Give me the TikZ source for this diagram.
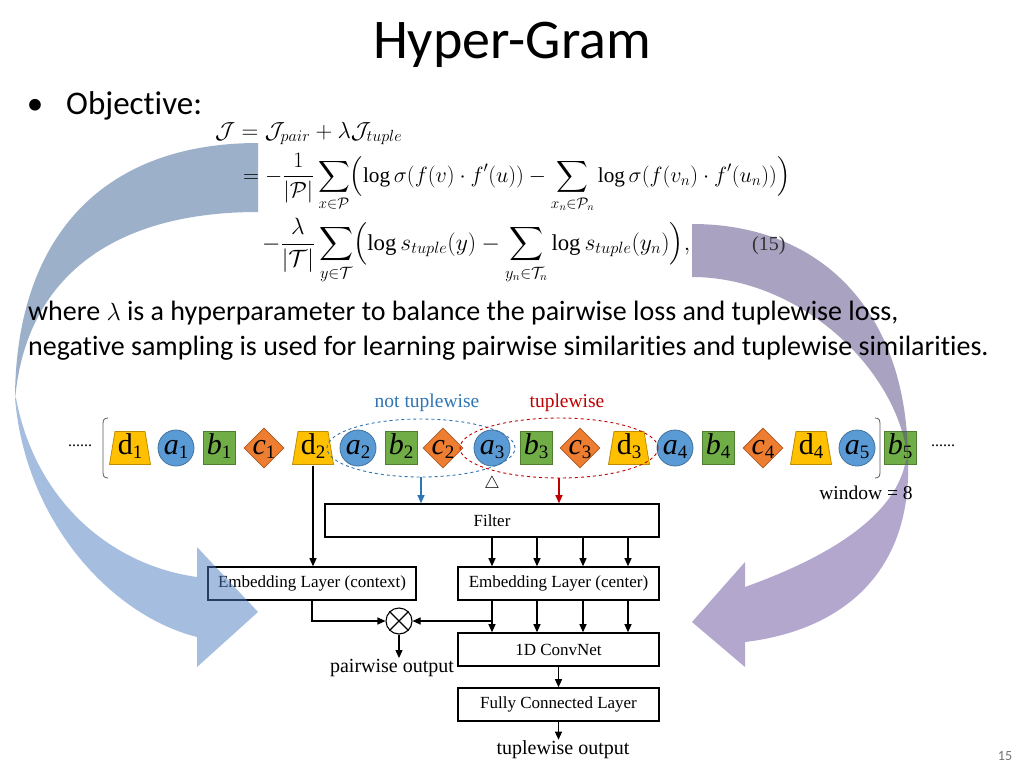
\documentclass[tikz,border=0pt]{standalone}
\usepackage{amsmath}
\usepackage{fontspec}
\setmainfont{Liberation Serif}
\newfontfamily\calibri[Ligatures=NoCommon]{Carlito}
\usetikzlibrary{shapes.geometric,arrows.meta,calc}

\definecolor{yel}{RGB}{255,192,0}
\definecolor{yeld}{RGB}{190,140,0}
\definecolor{blu}{RGB}{91,155,213}
\definecolor{blud}{RGB}{65,113,156}
\definecolor{grn}{RGB}{112,173,71}
\definecolor{grnd}{RGB}{80,126,50}
\definecolor{org}{RGB}{237,125,49}
\definecolor{orgd}{RGB}{174,90,33}
\definecolor{lineblue}{RGB}{46,117,182}
\definecolor{linered}{RGB}{192,0,0}
\definecolor{bandbA}{RGB}{59,99,151}
\definecolor{bandbB}{RGB}{77,127,193}
\definecolor{bandpA}{RGB}{85,71,131}
\definecolor{bandpB}{RGB}{105,81,159}

\newcommand\seqlab[2]{\makebox[0pt]{\smash{\raisebox{-6.5pt}{\fontsize{30}{30}\selectfont #1\raisebox{-4pt}{\fontsize{19}{19}\selectfont #2}}}}}

\tikzset{
  trap/.style={rectangle, minimum width=43pt, minimum height=35pt, inner sep=0pt,
    path picture={\filldraw[fill=yel, draw=yeld, line width=0.8pt]
      ([shift={(1pt,1pt)}]path picture bounding box.south west) --
      ([shift={(-1pt,1pt)}]path picture bounding box.south east) --
      ([shift={(-6.5pt,-1pt)}]path picture bounding box.north east) --
      ([shift={(6.5pt,-1pt)}]path picture bounding box.north west) -- cycle;}},
  circ/.style={circle, minimum size=36pt, inner sep=0pt, fill=blu, draw=blud, line width=0.8pt},
  sqr/.style={rectangle, minimum width=32pt, minimum height=33pt, inner sep=0pt, fill=grn, draw=grnd, line width=0.8pt},
  dia/.style={diamond, minimum width=40pt, minimum height=40pt, inner sep=0pt, fill=org, draw=orgd, line width=0.8pt},
  box/.style={rectangle, draw=black, line width=1.6pt, minimum height=33pt, inner sep=0pt, font=\fontsize{17}{17}\selectfont},
  arr/.style={-{Triangle[length=8pt,width=7pt]}, line width=1.1pt},
  slide/.style={font=\calibri\fontsize{28}{28}\selectfont, anchor=base west, inner sep=0pt},
}

\begin{document}
\begin{tikzpicture}[x=1pt,y=-1pt]
\fill[white] (0,0) rectangle (1024,768);
\useasboundingbox (0,0) rectangle (1024,768);

% ---------- sequence row ----------
\node[font=\fontsize{16}{16}\selectfont] (ldots) at (80,446) {......};
\node[font=\fontsize{16}{16}\selectfont] (rdots) at (943,446) {......};
\draw[black!65, line width=0.8pt] (108,418) .. controls (104,418) and (103,420) .. (103,424) -- (103,472) .. controls (103,476) and (104,478) .. (108,478);
\draw[black!65, line width=0.8pt] (875,418) .. controls (879,418) and (880,420) .. (880,424) -- (880,472) .. controls (880,476) and (879,478) .. (875,478);

\node[trap] (d1) at (130,448) {\seqlab{d}{1}};
\node[circ] (a1) at (176,448) {\seqlab{\textit{a}}{1}};
\node[sqr]  (b1) at (219,448) {\seqlab{\textit{b}}{1}};
\node[dia]  (c1) at (264,448) {\seqlab{\textit{c}}{1}};
\node[trap] (d2) at (313,448) {\seqlab{d}{2}};
\node[circ] (a2) at (358,448) {\seqlab{\textit{a}}{2}};
\node[sqr]  (b2) at (401,448) {\seqlab{\textit{b}}{2}};
\node[dia]  (c2) at (443,448) {\seqlab{\textit{c}}{2}};
\node[circ] (a3) at (492,448) {\seqlab{\textit{a}}{3}};
\node[sqr]  (b3) at (536,448) {\seqlab{\textit{b}}{3}};
\node[dia]  (c3) at (580,448) {\seqlab{\textit{c}}{3}};
\node[trap] (d3) at (629,448) {\seqlab{d}{3}};
\node[circ] (a4) at (675,448) {\seqlab{\textit{a}}{4}};
\node[sqr]  (b4) at (718,448) {\seqlab{\textit{b}}{4}};
\node[dia]  (c4) at (763,448) {\seqlab{\textit{c}}{4}};
\node[trap] (d4) at (811,448) {\seqlab{d}{4}};
\node[circ] (a5) at (857,448) {\seqlab{\textit{a}}{5}};
\node[sqr]  (b5) at (900,448) {\seqlab{\textit{b}}{5}};

\node[ellipse, draw=lineblue, dashed, line width=0.9pt, minimum width=188pt, minimum height=58pt, inner sep=0pt] (nt) at (421,448) {};
\node[ellipse, draw=linered, dashed, line width=0.9pt, minimum width=198pt, minimum height=60pt, inner sep=0pt] (tw) at (559,448) {};
\node[text=lineblue, font=\fontsize{19.5}{19.5}\selectfont] (ntl) at (427,403) {not tuplewise};
\node[text=linered, font=\fontsize{19.5}{19.5}\selectfont] (twl) at (567,403) {tuplewise};
\node[font=\fontsize{18}{18}\selectfont, inner sep=0pt] (tri) at (492,484) {$\triangle$};

% ---------- flowchart ----------
\node[box, minimum width=334pt] (filter) at (492,520.5) {Filter};
\node[box, minimum width=208pt] (embctx) at (312,583.5) {Embedding Layer (context)};
\node[box, minimum width=201pt] (embc) at (558.5,583.5) {Embedding Layer (center)};
\node[box, minimum width=201pt] (conv) at (558.5,649.5) {1D ConvNet};
\node[box, minimum width=201pt] (fc) at (558.5,704.5) {Fully Connected Layer};
\node[circle, draw, line width=1.1pt, minimum size=26pt, inner sep=0pt] (ot) at (399,621) {};
\draw[line width=1.1pt] (ot.north west) -- (ot.south east) (ot.north east) -- (ot.south west);
\node[font=\fontsize{20}{20}\selectfont, inner sep=1pt] (pw) at (392,668) {pairwise output};
\node[font=\fontsize{20}{20}\selectfont, inner sep=1pt] (tout) at (563,750) {tuplewise output};

\coordinate (k1) at (492,0);
\coordinate (k2) at (537,0);
\coordinate (k3) at (583,0);
\coordinate (k4) at (628,0);

\draw[arr, lineblue] (nt.south) -- (filter.north -| nt.south);
\draw[arr, linered] (tw.south) -- (filter.north -| tw.south);
\draw[arr] (d2.south) -- (embctx.north -| d2.south);
\foreach \k in {k1,k2,k3,k4} {
  \draw[arr] (filter.south -| \k) -- (embc.north -| \k);
  \draw[arr] (embc.south -| \k) -- (conv.north -| \k);
}
\draw[arr] (embctx.south) |- (ot.west);
\draw[arr] (ot.east -| k1) -- (ot.east);
\draw[arr] (ot.south) -- (ot.south |- pw.north);
\draw[arr] (conv.south) -- (fc.north);
\draw[arr] (fc.south) -- (fc.south |- tout.north);

% ---------- curved arrows ----------
\begin{scope}[fill opacity=0.5]
\fill[bandbA] (258,143) .. controls (100,143) and (15,240) .. (15,400) .. controls (25,280) and (110,212) .. (258,212) -- cycle;
\fill[bandbB] (15,398) .. controls (25,520) and (110,615) .. (197,637) -- (197,667) -- (258,612) -- (197,547) -- (197,577) .. controls (110,565) and (35,500) .. (16,398) -- cycle;
\fill[bandpA] (692,224) .. controls (820,224) and (908,310) .. (908,462) .. controls (900,370) and (800,277) .. (692,277) -- cycle;
\fill[bandpB] (908,460) .. controls (912,570) and (845,630) .. (745,642) -- (745,667) -- (692,622) -- (745,562) -- (745,587) .. controls (820,560) and (895,520) .. (906,460) -- cycle;
\end{scope}

\node[font=\fontsize{19.5}{19.5}\selectfont] (win) at (866,493) {window = 8};

% ---------- slide text ----------
\node[font=\calibri\fontsize{56}{56}\selectfont, anchor=base, inner sep=0pt] (title) at (512,59) {Hyper-Gram};
\node[font=\calibri\fontsize{33}{33}\selectfont, anchor=base, inner sep=0pt] (bul) at (35,114) {•};
\node[font=\calibri\fontsize{33}{33}\selectfont, anchor=base west, inner sep=0pt] (obj) at (66,114) {Objective:};

\node[anchor=base west, inner sep=0pt, font=\fontsize{20}{24}\selectfont] (f1) at (215,138) {\resizebox{187pt}{!}{$\mathcal{J} = \mathcal{J}_{pair} + \lambda\mathcal{J}_{tuple}$}};
\node[anchor=base west, inner sep=0pt, font=\fontsize{20}{24}\selectfont] (f2) at (243,182) {\resizebox{547pt}{!}{$\displaystyle = -\frac{1}{|\mathcal{P}|}\sum_{x\in\mathcal{P}}\Bigl(\log\sigma(f(v)\cdot f'(u)) - \sum_{x_n\in\mathcal{P}_n}\log\sigma(f(v_n)\cdot f'(u_n))\Bigr)$}};
\node[anchor=base west, inner sep=0pt, font=\fontsize{20}{24}\selectfont] (f3) at (262,250) {\resizebox{428pt}{!}{$\displaystyle -\frac{\lambda}{|\mathcal{T}|}\sum_{y\in\mathcal{T}}\Bigl(\log s_{tuple}(y) - \sum_{y_n\in\mathcal{T}_n}\log s_{tuple}(y_n)\Bigr),$}};
\node[anchor=base west, inner sep=0pt, font=\fontsize{20}{20}\selectfont, text=black!80] (eqn) at (752,250) {(15)};

\node[slide] (w1) at (28,320) {where $\lambda$ is a hyperparameter to balance the pairwise loss and tuplewise loss,};
\node[slide] (w2) at (28,355) {negative sampling is used for learning pairwise similarities and tuplewise similarities.};

\node[font=\calibri\fontsize{14}{14}\selectfont, text=black!55, anchor=base] (pg) at (1005,760) {15};
\end{tikzpicture}
\end{document}
